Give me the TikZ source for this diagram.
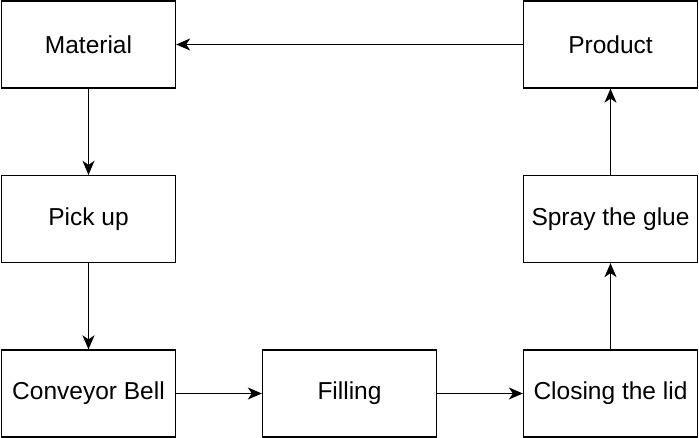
\documentclass[tikz,border=0pt]{standalone}
\usepackage{fontspec}
\setmainfont{Liberation Sans}
\usetikzlibrary{arrows.meta,positioning}

\begin{document}
\begin{tikzpicture}[
  x=1pt, y=1pt,
  box/.style={rectangle, draw, line width=1.3pt, minimum width=174pt, minimum height=87pt, align=center, font=\fontsize{24.5}{29}\selectfont, inner sep=0pt},
  arrow/.style={-{Stealth[length=14pt,width=12pt,inset=4pt]}, line width=1.3pt}
]
\useasboundingbox (0,0) rectangle (699,438);

\node[box] (material) at (88.5,393.5) {Material};
\node[box] (pickup) at (88.5,219) {Pick up};
\node[box] (conveyor) at (88.5,44.5) {Conveyor Bell};
\node[box] (filling) at (349.5,44.5) {Filling};
\node[box] (closing) at (610.5,44.5) {Closing the lid};
\node[box] (spray) at (610.5,219) {Spray the glue};
\node[box] (product) at (610.5,393.5) {Product};

\draw[arrow] (material) -- (pickup);
\draw[arrow] (pickup) -- (conveyor);
\draw[arrow] (conveyor) -- (filling);
\draw[arrow] (filling) -- (closing);
\draw[arrow] (closing) -- (spray);
\draw[arrow] (spray) -- (product);
\draw[arrow] (product) -- (material);

\end{tikzpicture}
\end{document}
